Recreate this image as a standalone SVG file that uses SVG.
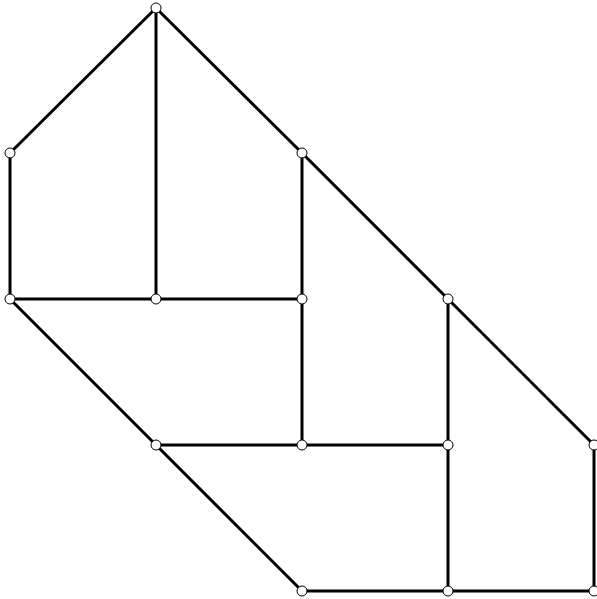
<svg xmlns="http://www.w3.org/2000/svg" width="597" height="599" viewBox="0 0 597 599">
<style>
.e{stroke:#000;stroke-width:3;fill:none;stroke-linecap:round}
.n{fill:#fff;stroke:#000;stroke-width:1}
</style>
<rect width="597" height="599" fill="#fff"/>
<g id="edges">
<line class="e" x1="156" y1="8" x2="10" y2="153"/>
<line class="e" x1="156" y1="8" x2="156" y2="299"/>
<line class="e" x1="156" y1="8" x2="302" y2="153"/>
<line class="e" x1="10" y1="153" x2="10" y2="299"/>
<line class="e" x1="302" y1="153" x2="302" y2="299"/>
<line class="e" x1="302" y1="153" x2="448" y2="299"/>
<line class="e" x1="10" y1="299" x2="302" y2="299"/>
<line class="e" x1="10" y1="299" x2="156" y2="445"/>
<line class="e" x1="302" y1="299" x2="302" y2="445"/>
<line class="e" x1="448" y1="299" x2="448" y2="591"/>
<line class="e" x1="448" y1="299" x2="594" y2="445"/>
<line class="e" x1="156" y1="445" x2="448" y2="445"/>
<line class="e" x1="156" y1="445" x2="302" y2="591"/>
<line class="e" x1="302" y1="591" x2="594" y2="591"/>
<line class="e" x1="594" y1="445" x2="594" y2="591"/>
</g>
<g id="n1"><circle class="n" cx="156" cy="8" r="5"/></g>
<g id="n2"><circle class="n" cx="10" cy="153" r="5"/></g>
<g id="n3"><circle class="n" cx="302" cy="153" r="5"/></g>
<g id="n4"><circle class="n" cx="10" cy="299" r="5"/></g>
<g id="n5"><circle class="n" cx="156" cy="299" r="5"/></g>
<g id="n6"><circle class="n" cx="302" cy="299" r="5"/></g>
<g id="n7"><circle class="n" cx="448" cy="299" r="5"/></g>
<g id="n8"><circle class="n" cx="156" cy="445" r="5"/></g>
<g id="n9"><circle class="n" cx="302" cy="445" r="5"/></g>
<g id="n10"><circle class="n" cx="448" cy="445" r="5"/></g>
<g id="n11"><circle class="n" cx="594" cy="445" r="5"/></g>
<g id="n12"><circle class="n" cx="302" cy="591" r="5"/></g>
<g id="n13"><circle class="n" cx="448" cy="591" r="5"/></g>
<g id="n14"><circle class="n" cx="594" cy="591" r="5"/></g>
</svg>
